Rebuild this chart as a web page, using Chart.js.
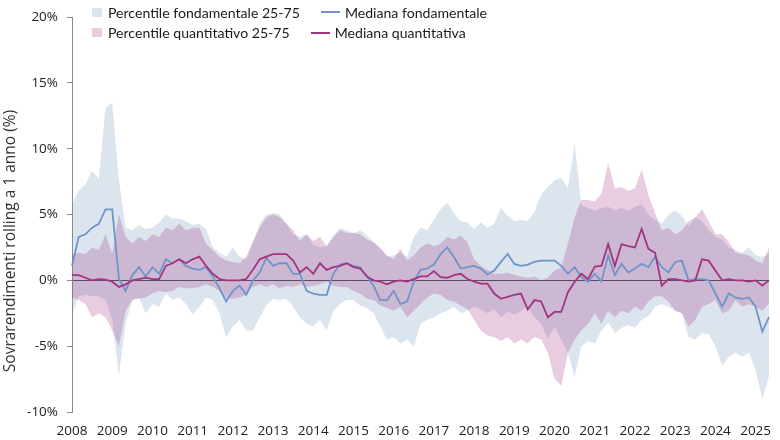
<!DOCTYPE html>
<html lang="it">
<head>
<meta charset="utf-8">
<title>Sovrarendimenti rolling a 1 anno</title>
<script src="https://cdn.jsdelivr.net/npm/chart.js@4.4.1/dist/chart.umd.min.js"></script>
<style>
    html, body { margin: 0; padding: 0; background: #fff; }
    #wrap { position: relative; width: 780px; height: 440px; overflow: hidden; }
    #chart { position: absolute; left: 0; top: 0; }
    /* legenda sopra l'area del grafico */
    .legend { position: absolute; left: 92px; top: 2px; font-family: Lato, "Noto Sans", sans-serif; font-size: 14.1px; color: #1a1a1a; }
    .legend .row { display: flex; align-items: center; height: 20.5px; white-space: nowrap; }
    .legend .box { width: 10px; height: 9px; margin-right: 6px; }
    .legend .ln { width: 19px; height: 2px; margin-left: 21px; margin-right: 5px; }
</style>
</head>
<body>
<div id="wrap">
    <canvas id="chart" width="780" height="440"></canvas>
    <div class="legend">
        <div class="row">
            <span class="box" style="background:#dce4ee"></span><span>Percentile fondamentale 25-75</span>
            <span class="ln" style="background:#6e95c8"></span><span>Mediana fondamentale</span>
        </div>
        <div class="row">
            <span class="box" style="background:#e8cde1"></span><span>Percentile quantitativo 25-75</span>
            <span class="ln" style="background:#a3347f"></span><span>Mediana quantitativa</span>
        </div>
    </div>
</div>
<script>
// anni sull'asse x (etichette)
const years = [2008, 2009, 2010, 2011, 2012, 2013, 2014, 2015, 2016, 2017, 2018, 2019, 2020, 2021, 2022, 2023, 2024, 2025];
const months = ['01', '03', '05', '07', '09', '11'];
const yTicks = [-10, -5, 0, 5, 10, 15, 20];
const yTitle = 'Sovrarendimenti rolling a 1 anno (%)';

// percentile 25-75 fondamentale (bimestrale, %)
const fondUpper = [
    5.7, 6.8, 7.3, 8.3, 7.7, 13.1,
    13.5, 7.6, 4.0, 3.8, 4.2, 3.9,
    4.0, 4.4, 5.0, 4.7, 4.7, 4.5,
    4.2, 4.3, 3.9, 2.5, 2.1, 1.8,
    2.5, 1.8, 1.6, 2.8, 4.3, 5.0,
    5.1, 5.0, 4.3, 3.5, 3.3, 3.5,
    2.7, 2.5, 2.6, 3.4, 4.0, 3.8,
    3.6, 3.8, 3.4, 2.9, 2.5, 1.8,
    1.9, 2.1, 1.8, 3.3, 4.0, 3.8,
    4.6, 5.4, 5.9, 5.1, 4.5, 4.4,
    3.9, 4.4, 4.0, 4.3, 5.5, 4.9,
    4.5, 4.6, 4.5, 5.2, 6.5, 7.1,
    7.6, 7.8, 7.0, 10.4, 5.7, 5.5,
    5.3, 5.5, 5.6, 5.3, 5.5, 5.3,
    5.6, 5.8, 5.0, 4.6, 4.3, 5.0,
    5.3, 4.9, 4.1, 4.8, 4.5, 3.8,
    3.3, 3.1, 2.5, 2.3, 2.1, 2.5,
    1.9, 1.8, 2.0
];
const fondLower = [
    -2.6, -1.2, -1.1, -1.2, -1.2, -1.5,
    -3.0, -7.2, -3.3, -1.5, -1.3, -2.5,
    -1.8, -2.0, -1.0, -1.5, -1.3, -1.8,
    -2.6, -2.0, -1.3, -1.5, -2.5, -4.3,
    -3.5, -3.0, -3.8, -3.8, -2.8, -1.9,
    -1.4, -1.5, -1.4, -2.0, -2.8, -3.3,
    -3.5, -3.0, -3.8, -2.3, -1.8, -1.5,
    -1.5, -1.9, -2.1, -2.5, -3.5, -4.5,
    -4.3, -4.8, -4.5, -5.0, -3.3, -3.0,
    -2.8, -2.5, -2.3, -2.0, -2.5, -2.3,
    -2.0, -2.2, -2.5, -2.2, -2.8, -2.4,
    -2.6, -2.3, -2.0, -2.8, -3.3, -4.5,
    -3.5, -4.5, -5.5, -7.3, -5.0, -4.6,
    -4.8, -3.8, -3.2, -4.0, -3.6, -3.4,
    -3.6, -3.0, -2.7, -2.0, -1.8, -2.0,
    -2.3, -2.5, -4.3, -4.5, -4.0, -4.1,
    -5.0, -6.5, -5.8, -5.5, -5.8, -5.5,
    -6.8, -9.0, -7.3
];

// percentile 25-75 quantitativo
const quantUpper = [
    2.0, 2.1, 2.0, 2.5, 2.3, 3.5,
    2.0, 5.0, 3.3, 2.8, 3.3, 3.0,
    3.5, 3.3, 4.0, 3.8, 4.3, 3.8,
    4.0, 4.0, 2.8, 2.3, 1.8, 1.5,
    1.4, 1.3, 1.8, 3.0, 4.0, 4.8,
    5.0, 4.8, 4.3, 3.8, 3.0, 3.5,
    3.0, 3.3, 2.6, 3.3, 3.8, 3.6,
    3.6, 3.5, 3.1, 2.9, 2.4, 1.9,
    1.6, 2.4, 1.5, 1.9, 2.5, 2.8,
    2.6, 2.8, 3.3, 3.1, 3.4, 2.9,
    1.6, 1.1, 0.8, 0.5, 0.5, 0.6,
    0.4, 0.3, 0.2, 0.3, 0.0, 0.2,
    0.75, 1.0, 2.8, 4.8, 6.1, 6.1,
    6.0, 6.6, 8.9, 7.0, 7.1, 6.8,
    7.0, 8.4, 6.5, 5.1, 3.8, 4.0,
    3.5, 3.8, 4.5, 4.8, 5.4, 4.5,
    3.5, 3.5, 2.9, 2.1, 2.0, 1.9,
    1.5, 1.3, 2.5
];
const quantLower = [
    -1.3, -1.5, -1.8, -2.8, -2.5, -2.8,
    -3.8, -5.0, -2.3, -1.5, -1.4, -1.3,
    -1.0, -0.8, -0.9, -0.8, -0.5, -0.6,
    -0.6, -0.5, -0.3, -0.5, -0.8, -1.3,
    -1.4, -1.3, -1.1, -0.5, -0.3, -0.5,
    -0.3, -0.6, -0.4, -0.5, -0.3, -0.5,
    -0.4, -0.3, -0.1, -0.4, -0.5, -0.5,
    -0.8, -1.0, -1.4, -1.5, -1.9, -2.1,
    -2.3, -2.0, -2.8, -2.3, -1.8, -1.3,
    -1.0, -1.1, -1.5, -1.6, -1.9, -2.2,
    -3.0, -3.8, -4.2, -4.3, -4.6, -4.3,
    -4.8, -4.5, -4.8, -4.3, -4.5, -5.5,
    -7.5, -8.0, -5.5, -4.5, -3.8, -3.3,
    -2.5, -3.3, -2.3, -2.8, -2.3, -2.5,
    -2.0, -2.3, -1.6, -1.2, -1.2, -1.6,
    -2.3, -2.5, -3.5, -3.0, -2.0, -1.8,
    -1.5, -2.5, -2.3, -1.5, -2.0, -1.8,
    -2.0, -2.3, -1.8
];

// mediane
const fondMedian = [
    1.1, 3.3, 3.5, 4.0, 4.3, 5.4,
    5.4, 0.1, -0.8, 0.4, 1.0, 0.3,
    1.0, 0.5, 1.6, 1.3, 1.6, 1.1,
    0.9, 0.8, 1.0, 0.3, -0.6, -1.6,
    -0.8, -0.4, -1.1, 0.0, 0.6, 1.7,
    1.1, 1.3, 1.3, 0.5, 0.5, -0.8,
    -1.0, -1.1, -1.1, 0.5, 1.2, 1.3,
    1.1, 1.0, 0.3, -0.4, -1.5, -1.5,
    -0.8, -1.8, -1.6, -0.1, 0.8, 0.9,
    1.2, 2.0, 2.5, 1.75, 0.9, 1.0,
    1.1, 0.9, 0.45, 0.75, 1.4, 2.0,
    1.25, 1.1, 1.2, 1.4, 1.5, 1.5,
    1.5, 1.1, 0.5, 1.0, 0.25, -0.1,
    0.5, -0.1, 1.9, 0.4, 1.25, 0.6,
    0.9, 1.25, 1.0, 1.8, 1.0, 0.6,
    1.4, 1.5, 0.0, 0.1, 0.1, 0.0,
    -1.0, -2.0, -1.0, -1.3, -1.4, -1.3,
    -2.0, -3.9, -2.8
];
const quantMedian = [
    0.4, 0.4, 0.2, 0.0, 0.1, 0.05,
    -0.1, -0.5, -0.3, 0.0, 0.1, 0.2,
    0.1, 0.1, 1.1, 1.3, 1.6, 1.3,
    1.6, 1.8, 1.1, 0.5, 0.1, 0.0,
    0.0, 0.0, 0.1, 0.8, 1.6, 1.8,
    2.0, 2.0, 2.0, 1.5, 0.6, 1.0,
    0.5, 1.3, 0.8, 1.0, 1.1, 1.3,
    1.0, 0.9, 0.3, 0.0, -0.1, -0.3,
    -0.1, 0.0, -0.1, 0.1, 0.3, 0.3,
    0.7, 0.25, 0.2, 0.4, 0.5, 0.1,
    -0.1, -0.25, -0.25, -1.0, -1.4, -1.25,
    -1.1, -1.0, -2.2, -1.5, -1.6, -2.8,
    -2.4, -2.4, -0.9, -0.1, 0.5, 0.1,
    1.05, 1.1, 2.75, 1.1, 2.75, 2.6,
    2.5, 3.9, 2.4, 2.1, -0.4, 0.1,
    0.1, 0.0, -0.1, 0.0, 1.6, 1.5,
    0.75, 0.0, 0.1, 0.0, 0.0, -0.1,
    0.0, -0.4, 0.0
];

// etichette mensili (una ogni due mesi) fino a maggio 2025
const labels = [];
years.forEach(y => {
    months.forEach(m => {
        if (labels.length < fondMedian.length) labels.push(y + '-' + m);
    });
});

const FONT = '"Open Sans", "Noto Sans", sans-serif';

// titolo asse y disegnato a mano per poterlo spostare
const yTitlePlugin = {
    id: 'yTitle',
    afterDraw(chart) {
        const ctx = chart.ctx;
        ctx.save();
        ctx.translate(11, 241);
        ctx.rotate(-Math.PI / 2);
        ctx.font = '15.5px ' + FONT;
        ctx.fillStyle = '#333';
        ctx.textAlign = 'center';
        ctx.textBaseline = 'middle';
        ctx.fillText(yTitle, 0, 0);
        ctx.restore();
    }
};

function bandSet(label, data, color, fill) {
    return {
        label: label,
        data: data,
        borderWidth: 0,
        pointRadius: 0,
        backgroundColor: color,
        fill: fill
    };
}

function lineSet(label, data, color) {
    return {
        label: label,
        data: data,
        borderColor: color,
        borderWidth: 1.8,
        pointRadius: 0,
        tension: 0,
        fill: false
    };
}

new Chart(document.getElementById('chart'), {
    type: 'line',
    data: {
        labels: labels,
        datasets: [
            lineSet('Mediana quantitativa', quantMedian, '#a3347f'),
            lineSet('Mediana fondamentale', fondMedian, '#6e95c8'),
            bandSet('Percentile quantitativo 25-75', quantUpper, 'rgba(164,56,132,0.25)', '+1'),
            bandSet('quant lower', quantLower, 'rgba(0,0,0,0)', false),
            bandSet('Percentile fondamentale 25-75', fondUpper, 'rgba(116,148,188,0.25)', '+1'),
            bandSet('fond lower', fondLower, 'rgba(0,0,0,0)', false)
        ]
    },
    options: {
        responsive: false,
        animation: false,
        layout: { padding: { top: 12, right: 6, left: 0, bottom: 0 } },
        plugins: {
            legend: { display: false },
            tooltip: { enabled: false }
        },
        scales: {
            x: {
                type: 'category',
                offset: false,
                grid: { display: false, drawTicks: false },
                border: { display: false },
                ticks: {
                    autoSkip: false,
                    maxRotation: 0,
                    minRotation: 0,
                    padding: 11,
                    color: '#222',
                    font: { family: FONT, size: 13.5 },
                    callback: function (val) {
                        const l = this.getLabelForValue(val);
                        return l.endsWith('-01') ? l.slice(0, 4) : '';
                    }
                },
                afterFit: scale => { scale.height = 28; }
            },
            y: {
                min: yTicks[0],
                max: yTicks[yTicks.length - 1],
                afterBuildTicks: scale => { scale.ticks = yTicks.map(v => ({ value: v })); },
                grid: {
                    drawTicks: true,
                    tickLength: 5,
                    lineWidth: 1,
                    color: c => (c.tick && c.tick.value === 0) ? '#3a3a3a' : 'rgba(0,0,0,0)',
                    tickColor: '#8c8c8c'
                },
                border: { display: true, color: '#8c8c8c', width: 1 },
                ticks: {
                    padding: 9,
                    color: '#222',
                    font: { family: FONT, size: 13.5 },
                    callback: v => v + '%'
                },
                afterFit: scale => { scale.width = 72; }
            }
        }
    },
    plugins: [yTitlePlugin]
});
</script>
</body>
</html>
